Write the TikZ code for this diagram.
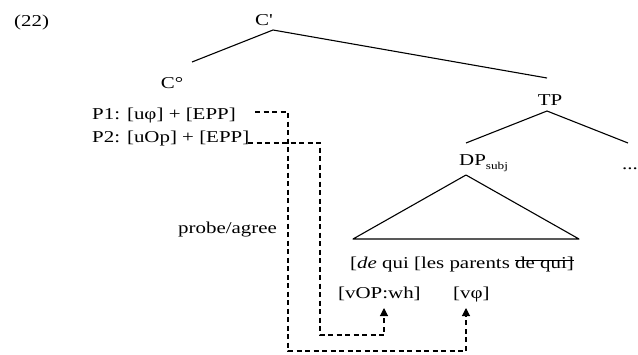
\documentclass[tikz,border=0pt]{standalone}
\usepackage{fontspec}
\usepackage{graphicx}
\setmainfont{Liberation Serif}
\usetikzlibrary{arrows.meta}
% text is set a little wider than the font's natural proportions
\newcommand{\widetxt}[1]{\scalebox{1.26}[1]{#1}}
\newcommand{\subtxt}[1]{\raisebox{-4.5pt}{\fontsize{10.5}{12}\selectfont #1}}
% struck-through copy
\newcommand{\strikethru}[1]{\setbox0\hbox{#1}\rlap{\rule[0.42em]{\wd0}{1pt}}\box0}
\begin{document}
\begin{tikzpicture}[x=1pt,y=-1pt,
  lbl/.style={inner sep=0pt,font=\fontsize{16.6}{19}\selectfont},
  branch/.style={line width=1.1pt,line join=round},
  probe/.style={line width=1.1pt,dash pattern=on 5pt off 3.5pt,
    -{Triangle[width=8pt,length=8pt]}}]
\useasboundingbox (0,0) rectangle (638,354);

% labels of the tree
\node[lbl,anchor=base west] (ex)    at (14,26)  {\widetxt{(22)}};
\node[lbl,anchor=base]      (cbar)  at (264,25) {\widetxt{C\textquotesingle}};
\node[lbl,anchor=base]      (c0)    at (172,88) {\widetxt{C°}};
\node[lbl,anchor=base]      (tp)    at (550,105){\widetxt{TP}};
\node[lbl,anchor=base west] (dp)    at (459,165){\widetxt{DP\subtxt{subj}}};
\node[lbl,anchor=base west] (dots)  at (622,169){\widetxt{...}};
\node[lbl,anchor=base west] (p1)    at (92,119) {\widetxt{P1: [uφ] + [EPP]}};
\node[lbl,anchor=base west] (p2)    at (92,142) {\widetxt{P2: [uOp] + [EPP]}};
\node[lbl,anchor=base west] (pa)    at (178,233){\widetxt{probe/agree}};
\node[lbl,anchor=base west] (sent)  at (350,268){\widetxt{[\textit{de} qui [les parents \strikethru{de qui]}}};
\node[lbl,anchor=base west] (vop)   at (338,298){\widetxt{[vOP:wh]}};
\node[lbl,anchor=base west] (vphi)  at (453,298){\widetxt{[vφ]}};

% branch end points
\coordinate (cbar-b) at (273,30);
\coordinate (c0-t)   at (192,62);
\coordinate (tp-t)   at (547,78);
\coordinate (tp-b)   at (547,111);
\coordinate (dp-t)   at (466,143);
\coordinate (dots-t) at (628,143);
\coordinate (tri-a)  at (466,175);
\coordinate (tri-l)  at (353,239);
\coordinate (tri-r)  at (579,239);

\draw[branch] (c0-t) -- (cbar-b) -- (tp-t);
\draw[branch] (dp-t) -- (tp-b) -- (dots-t);
\draw[branch] (tri-a) -- (tri-l) -- (tri-r) -- cycle;

% probe/agree paths
\coordinate (p1-s)   at (255,112);
\coordinate (p2-s)   at (248,143);
\coordinate (vphi-t) at (466,308);
\coordinate (vop-t)  at (384,308);

\draw[probe] (p1-s) -| (288,351) -| (vphi-t);
\draw[probe] (p2-s) -| (320,335) -| (vop-t);
\end{tikzpicture}
\end{document}
